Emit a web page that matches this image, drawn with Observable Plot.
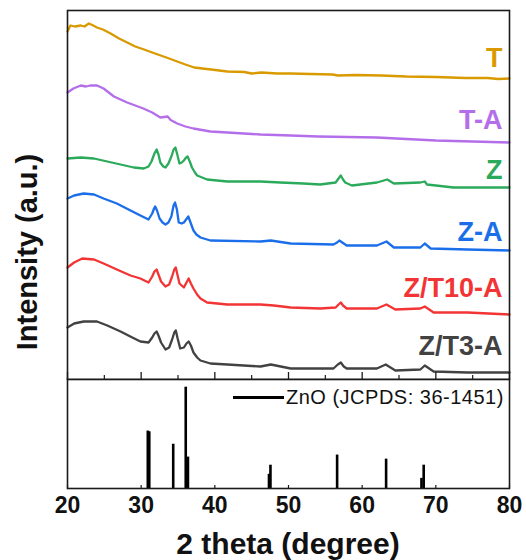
<!DOCTYPE html>
<html>
<head>
<meta charset="utf-8">
<script src="https://cdn.jsdelivr.net/npm/d3@7"></script>
<script src="https://cdn.jsdelivr.net/npm/@observablehq/plot@0.6"></script>
<style>
  body { margin: 0; background: #fff; }
  #wrap { position: relative; width: 526px; height: 560px; font-family: Arial, "Liberation Sans", sans-serif; color: #111; overflow: hidden; }
  #topChart, #botChart { position: absolute; left: 0; }
  #topChart { top: 0; }
  #botChart { top: 378px; }
  .ylab { position: absolute; left: 27px; top: 252px; transform: translate(-50%, -50%) rotate(-90deg); font-size: 29px; font-weight: bold; white-space: nowrap; line-height: 1; }
  .xlab { position: absolute; left: 288px; top: 529px; transform: translateX(-50%); font-size: 30px; font-weight: bold; white-space: nowrap; line-height: 30px; }
  .legend { position: absolute; left: 233px; top: 386px; height: 23px; display: flex; align-items: center; font-size: 20px; letter-spacing: 0.5px; white-space: nowrap; }
  .legend .sw { display: inline-block; width: 51px; height: 3px; background: #000; margin-right: 2px; }
</style>
</head>
<body>
<div id="wrap">
  <div id="topChart"></div>
  <div id="botChart"></div>
  <div class="ylab">Intensity (a.u.)</div>
  <div class="xlab">2 theta (degree)</div>
  <div class="legend"><span class="sw"></span><span id="legText"></span></div>
</div>
<script>
// ---- Data (2θ in degrees, intensity in arbitrary units, stacked offsets as in figure) ----
const seriesNames = ["T", "T-A", "Z", "Z-A", "Z/T10-A", "Z/T3-A"];
const seriesColors = ["#D99A00", "#B46EEA", "#2BAA5B", "#1B6EEA", "#F33434", "#424242"];

const tX = [20.0, 20.4, 21.0, 21.8, 22.3, 22.9, 23.5, 24.0, 24.8, 25.85, 27.0, 28.1, 29.2, 30.4, 31.5, 32.65, 33.8, 34.9, 36.0, 37.2, 38.3, 39.5, 41.7, 44.0, 45.0, 46.3, 48.5, 50.3, 53.0, 56.0, 56.7, 59.0, 62.6, 66.0, 70.0, 74.0, 77.0, 78.5, 80.0];
const tY = [348, 354, 353, 354, 353, 356, 354, 352, 350, 346, 341, 337, 333, 330, 327, 324, 321, 318, 315, 312, 311, 310, 308, 307.5, 306, 307, 306, 306, 305.5, 305, 304, 304.5, 304, 303, 302.5, 301.5, 301.5, 300.5, 301];

const taX = [20.0, 20.8, 21.8, 22.5, 23.1, 24.0, 24.9, 26.3, 28.1, 30.3, 31.5, 32.6, 33.6, 34.0, 34.9, 36.0, 37.1, 39.4, 41.7, 46.2, 50.3, 54.0, 58.0, 62.0, 66.0, 70.0, 75.0, 80.0];
const taY = [287, 291, 294, 293, 294, 294, 291, 283, 277, 271, 267, 262, 263, 259.5, 256, 253, 251, 248, 247, 245, 244, 243, 242.5, 242, 240.5, 239, 238, 237];

const zX = [20.0, 21.8, 23.6, 25.4, 27.2, 29.0, 30.35, 31.0, 31.4, 31.8, 32.1, 32.35, 32.6, 33.0, 33.3, 33.7, 34.1, 34.4, 34.65, 34.9, 35.2, 35.5, 35.8, 36.1, 36.3, 36.6, 36.9, 37.3, 37.6, 38.95, 41.7, 46.2, 48.9, 52.0, 54.3, 56.4, 56.8, 57.1, 57.4, 57.7, 58.6, 62.0, 63.4, 64.3, 67.9, 68.5, 68.8, 72.4, 80.0];
const zY = [221, 222, 221, 218, 215, 212, 211, 213, 218, 226, 230, 225, 217, 213, 212, 216, 223, 230, 232, 225, 216, 217, 219, 222, 223, 218, 212, 207, 204, 200, 198, 198, 197, 196, 195, 197, 201, 204, 200, 197, 194, 197, 200, 196, 197, 198, 195, 192, 192];

const zaX = [20.0, 20.9, 22.2, 23.6, 24.9, 26.7, 28.55, 29.9, 31.0, 31.5, 31.75, 31.9, 32.15, 32.5, 32.9, 33.3, 33.7, 34.1, 34.4, 34.6, 34.85, 35.1, 35.5, 35.8, 36.1, 36.4, 36.7, 37.1, 37.5, 38.05, 39.4, 46.2, 47.6, 50.3, 56.1, 56.6, 56.9, 57.3, 57.9, 62.0, 63.3, 64.3, 67.9, 68.5, 69.3, 74.3, 80.0];
const zaY = [181, 184, 186, 185, 181, 176, 169, 164, 160, 166, 171, 173, 169, 161, 157, 155, 157, 163, 174, 177, 170, 157, 156, 157, 160, 163, 157, 149, 145, 142, 139, 138, 139, 136, 135, 137, 139, 137, 134, 134, 138, 132, 132, 136, 131, 130, 129];

const z10X = [20.0, 20.9, 22.0, 23.6, 24.9, 26.7, 28.55, 29.9, 31.0, 31.5, 31.8, 32.1, 32.4, 32.7, 33.3, 33.8, 34.2, 34.5, 34.7, 34.95, 35.2, 35.8, 36.15, 36.45, 36.75, 37.1, 37.6, 38.05, 38.95, 41.7, 46.2, 48.0, 50.3, 54.3, 56.4, 56.8, 57.1, 57.4, 57.9, 62.0, 63.3, 64.5, 67.9, 68.5, 69.7, 74.3, 80.0];
const z10Y = [112, 117, 121, 120, 116, 110, 104, 101, 97, 103, 108, 110, 104, 98, 93, 95, 103, 110, 112, 104, 96, 92, 97, 101, 96, 91, 85, 81, 77, 75, 75, 74, 72, 71, 72, 75, 77, 74, 71, 71, 75, 70, 71, 73, 67, 67, 65];

const z3X = [20.0, 20.9, 22.2, 24.0, 25.4, 27.2, 28.8, 29.9, 31.0, 31.5, 31.8, 32.1, 32.4, 32.7, 33.3, 33.8, 34.2, 34.5, 34.7, 34.95, 35.3, 35.8, 36.15, 36.45, 36.75, 37.1, 37.6, 38.05, 39.4, 41.7, 46.2, 47.6, 50.3, 56.1, 56.7, 57.1, 57.5, 57.9, 62.0, 63.2, 64.5, 67.9, 68.5, 69.7, 74.3, 80.0];
const z3Y = [52, 56, 58, 58, 54, 48, 42, 38, 37, 42, 46, 48, 43, 37, 30, 32, 40, 47, 49, 41, 31, 32, 36, 38, 34, 27, 22, 19, 16, 15, 13, 15, 11, 11, 15, 17, 13, 11, 11, 15, 9, 10, 14, 8, 7, 7];

// ZnO reference pattern (JCPDS 36-1451), relative intensity
const refName = "ZnO (JCPDS: 36-1451)";
const stickX = [30.9, 31.1, 34.35, 36.05, 36.35, 47.35, 47.55, 56.6, 63.25, 68.05, 68.35];
const stickY = [0.567, 0.56, 0.437, 1.0, 0.31, 0.14, 0.23, 0.33, 0.29, 0.10, 0.23];

const xTicks = [20, 30, 40, 50, 60, 70, 80];
const xMinorTicks = [25, 35, 45, 55, 65, 75];

// ---- Build tables ----
const xs = [tX, taX, zX, zaX, z10X, z3X];
const ys = [tY, taY, zY, zaY, z10Y, z3Y];
const rows = seriesNames.flatMap((name, k) => xs[k].map((x, i) => ({name, x, y: ys[k][i]})));
const labelOffsets = [20.5, 22, 17, 18, 26, 26];
const labels = seriesNames.map((name, k) => ({name, y: ys[k][ys[k].length - 1] + labelOffsets[k]}));
const sticks = stickX.map((x, i) => ({x, h: stickY[i]}));

const font = "Arial, 'Liberation Sans', sans-serif";
const frameColor = "#1a1a1a";

// ---- Top panel ----
const topH = 380, topMT = 10, topMB = 1;
const topInner = topH - topMT - topMB;
const topPlot = Plot.plot({
  width: 526, height: topH,
  marginLeft: 67, marginRight: 17, marginTop: topMT, marginBottom: topMB,
  style: {fontFamily: font, background: "transparent"},
  x: {domain: [20, 80], axis: null},
  y: {domain: [0, 369], axis: null},
  color: {domain: seriesNames, range: seriesColors},
  marks: [
    Plot.line(rows, {x: "x", y: "y", z: "name", stroke: "name", strokeWidth: 2.3}),
    Plot.text(labels, {x: 80, y: "y", text: "name", fill: "name", textAnchor: "end", dx: -7,
      fontSize: 27, fontWeight: "bold", fontFamily: font}),
    Plot.tickX(xTicks, {x: d => d, insetTop: topInner - 7, stroke: frameColor, strokeWidth: 1.3}),
    Plot.tickX(xMinorTicks, {x: d => d, insetTop: topInner - 4, stroke: frameColor, strokeWidth: 1.2}),
    Plot.frame({stroke: frameColor, strokeWidth: 1.6})
  ]
});
document.getElementById("topChart").appendChild(topPlot);

// ---- Bottom panel (reference sticks) ----
const botH = 182, botMT = 1, botMB = 72;
const botInner = botH - botMT - botMB;
const botPlot = Plot.plot({
  width: 526, height: botH,
  marginLeft: 67, marginRight: 17, marginTop: botMT, marginBottom: botMB,
  style: {fontFamily: font, background: "transparent", color: "#111"},
  x: {domain: [20, 80]},
  y: {domain: [0, 1.076], axis: null},
  marks: [
    Plot.ruleX(sticks, {x: "x", y1: 0, y2: "h", stroke: "#000", strokeWidth: 2.6}),
    Plot.tickX(xTicks, {x: d => d, insetTop: botInner - 3, stroke: frameColor, strokeWidth: 1.2}),
    Plot.frame({stroke: frameColor, strokeWidth: 1.6}),
    Plot.axisX(xTicks, {tickSize: 0, tickPadding: 8, label: null, tickFormat: d => String(d),
      fontSize: 23, fontWeight: "bold", fontFamily: font, fill: "#111"})
  ]
});
document.getElementById("botChart").appendChild(botPlot);
document.getElementById("legText").textContent = refName;
</script>
</body>
</html>
